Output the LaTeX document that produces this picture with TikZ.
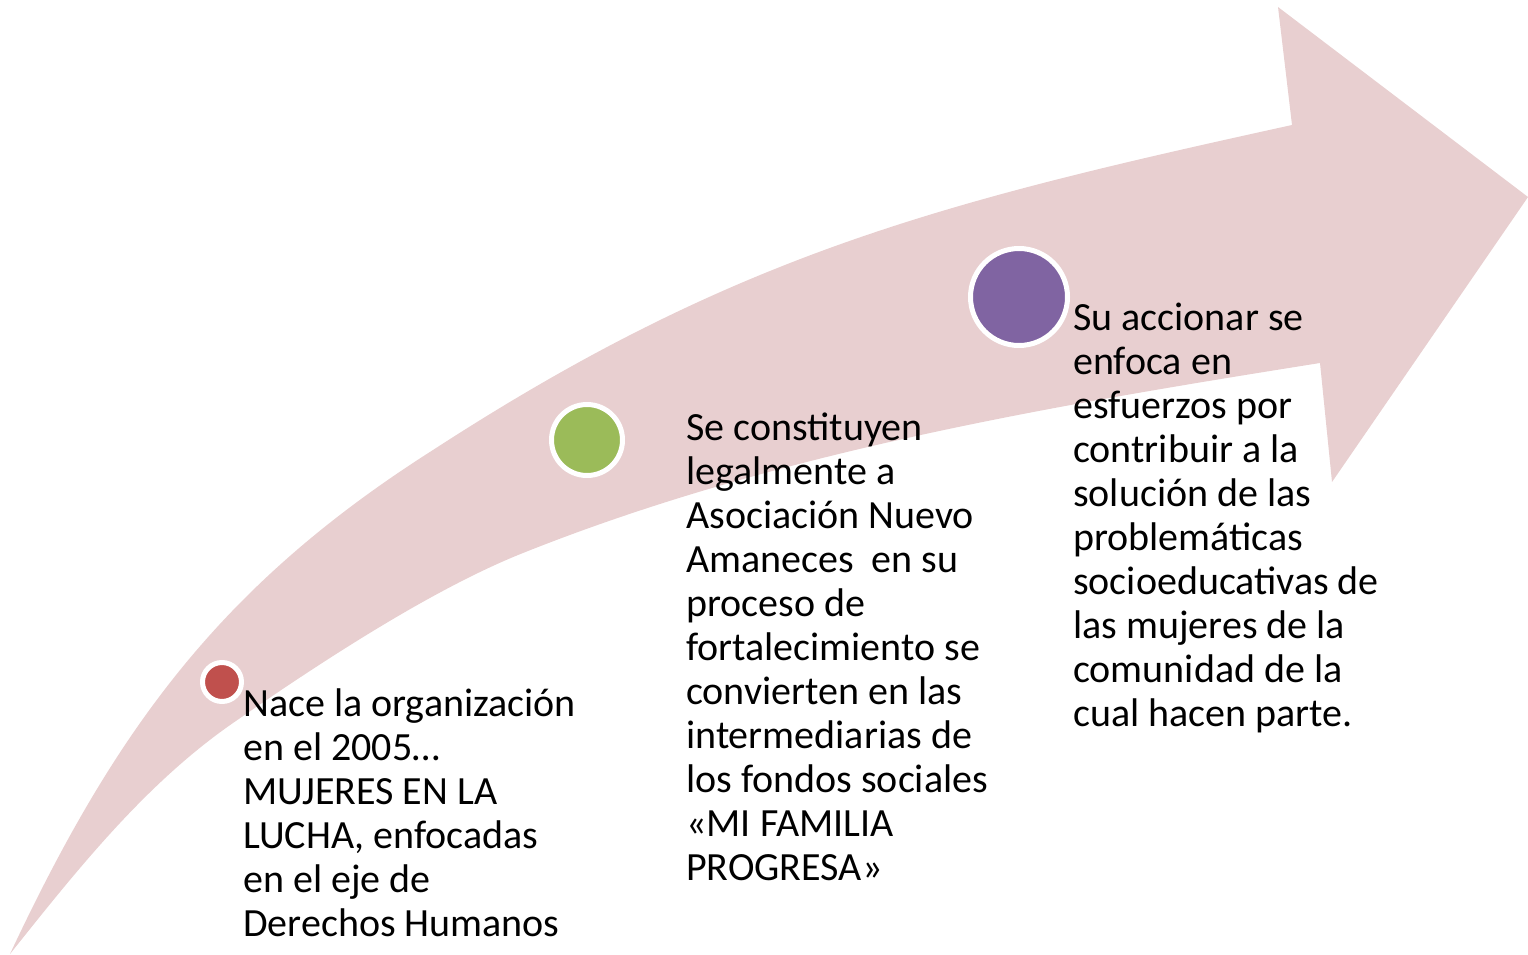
\documentclass[tikz,border=0pt]{standalone}
\usepackage{fontspec}
\setmainfont{Carlito}
\usepackage{tikz}

\definecolor{arrowpink}{RGB}{232,207,208}
\definecolor{dotred}{RGB}{192,80,77}
\definecolor{dotgreen}{RGB}{155,187,89}
\definecolor{dotpurple}{RGB}{128,100,162}

\tikzset{
  dot/.style={circle, draw=white, line width=5pt, inner sep=0pt},
  txt/.style={anchor=base west, align=left, inner sep=0pt,
    font=\fontsize{40}{44}\selectfont},
}

\begin{document}
\begin{tikzpicture}[x=1pt, y=-1pt]

  \useasboundingbox (0,0) rectangle (1528,955);

  % Arrow
  \fill[arrowpink] (10,954)
    .. controls (116,728) and (222,584) .. (433,450)
    .. controls (735,254) and (941,202) .. (1292,125)
    -- (1278,7) -- (1528,197) -- (1332,482) -- (1320,363)
    .. controls (1050,406) and (776,452) .. (523,553)
    .. controls (430,590) and (315,666) .. (233,723)
    .. controls (145,784) and (77,870) .. (10,954)
    -- cycle;

  % Define nodes
  \node[dot, fill=dotred,    minimum size=39pt] (d1) at (222,682) {};
  \node[dot, fill=dotgreen,  minimum size=71pt] (d2) at (587,440) {};
  \node[dot, fill=dotpurple, minimum size=97pt] (d3) at (1019,297) {};

  % Texts (anchored at the last line)
  \node[txt] (t1) at (243,936) {Nace la organización\\en el 2005…\\MUJERES EN LA\\LUCHA, enfocadas\\en el eje de\\Derechos Humanos};
  \node[txt] (t2) at (686,880) {Se constituyen\\legalmente a\\Asociación Nuevo\\Amaneces~ en su\\proceso de\\fortalecimiento se\\convierten en las\\intermediarias de\\los fondos sociales\\«MI FAMILIA\\PROGRESA»};
  \node[txt] (t3) at (1073,726) {Su accionar se\\enfoca en\\esfuerzos por\\contribuir a la\\solución de las\\problemáticas\\socioeducativas de\\las mujeres de la\\comunidad de la\\cual hacen parte.};

\end{tikzpicture}
\end{document}
